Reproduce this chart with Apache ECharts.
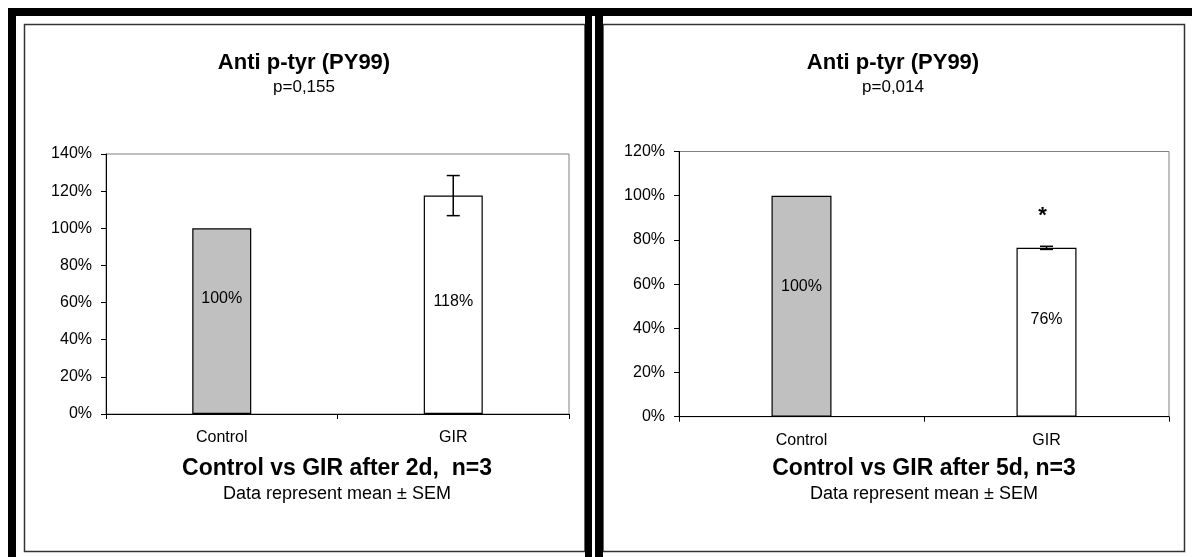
<!DOCTYPE html>
<html>
<head>
<meta charset="utf-8">
<script src="https://cdn.jsdelivr.net/npm/echarts@6/dist/echarts.min.js"></script>
<style>
html,body{margin:0;padding:0;background:#fff;}
#c{width:1192px;height:557px;}
</style>
</head>
<body>
<div id="c"></div>
<script>
// ---- data ----
const categories = ['Control', 'GIR'];
const values2d = [100, 117.6];
const sem2d = [null, 10.8];
const values5d = [100, 76.4];
const sem5d = [null, 0.7];
const signif5d = ['', '*'];
const yMax2d = 140, yMax5d = 120, yStep = 20;
const title2d = 'Anti p-tyr (PY99)', sub2d = 'p=0,155';
const title5d = 'Anti p-tyr (PY99)', sub5d = 'p=0,014';
const xTitle2d = 'Control vs GIR after 2d,  n=3';
const xTitle5d = 'Control vs GIR after 5d, n=3';
const note = 'Data represent mean \u00b1 SEM';
const barColors = ['#C0C0C0', '#FFFFFF'];

// ---- styles ----
const FONT = '"Liberation Sans", Arial, sans-serif';
const labelPos2d = ['38%', '48.5%'];
const labelPos5d = ['41%', '42.5%'];

const chart = echarts.init(document.getElementById('c'), null, {renderer: 'canvas'});

function barData(vals, pos) {
  return vals.map((v, i) => ({
    value: v,
    itemStyle: {color: barColors[i], borderColor: '#000', borderWidth: 1.2},
    label: {position: ['50%', pos[i]]}
  }));
}

function errRender(sems, signs) {
  return function (params, api) {
    const i = params.dataIndex;
    const s = sems[i];
    if (s == null) return null;
    const v = api.value(1);
    const x = api.coord([api.value(0), v])[0];
    const top = api.coord([api.value(0), v + s])[1];
    const bot = api.coord([api.value(0), v - s])[1];
    const hw = 6.5;
    const st = {stroke: '#000', lineWidth: 1.5};
    const children = [
      {type: 'line', shape: {x1: x, y1: top, x2: x, y2: bot}, style: st},
      {type: 'line', shape: {x1: x - hw, y1: top, x2: x + hw, y2: top}, style: st},
      {type: 'line', shape: {x1: x - hw, y1: bot, x2: x + hw, y2: bot}, style: st}
    ];
    if (signs && signs[i]) {
      children.push({type: 'text', style: {text: signs[i], x: x - 4, y: top - 30,
        textAlign: 'center', textVerticalAlign: 'middle',
        font: 'bold 22px ' + FONT, fill: '#000'}});
    }
    return {type: 'group', children: children};
  };
}

function yAxisCfg(idx, max) {
  return {
    type: 'value', gridIndex: idx, min: 0, max: max, interval: yStep,
    axisLine: {show: true, lineStyle: {color: '#000', width: 1}},
    axisTick: {show: true, length: 5, lineStyle: {color: '#000'}},
    splitLine: {show: false},
    axisLabel: {formatter: '{value}%', color: '#000', fontSize: 16, fontFamily: FONT, margin: 14}
  };
}
function xAxisCfg(idx) {
  return {
    type: 'category', gridIndex: idx, data: categories,
    axisLine: {show: true, lineStyle: {color: '#000', width: 1}},
    axisTick: {show: true, length: 5, alignWithLabel: false, lineStyle: {color: '#000'}},
    axisLabel: {color: '#000', fontSize: 16, fontFamily: FONT, margin: 16}
  };
}
function barSeries(idx, vals, pos) {
  return {
    type: 'bar', xAxisIndex: idx, yAxisIndex: idx, data: barData(vals, pos),
    barWidth: idx === 0 ? 59 : 60,
    label: {show: true, align: 'center', verticalAlign: 'middle', color: '#000',
      fontSize: 16, fontFamily: FONT, formatter: p => Math.round(p.value) + '%'},
    z: 2
  };
}
function errSeries(idx, vals, sems, signs) {
  return {
    type: 'custom', xAxisIndex: idx, yAxisIndex: idx,
    data: vals.map((v, i) => [i, v]),
    renderItem: errRender(sems, signs), z: 5
  };
}
function txt(t, x, y, font) {
  return {type: 'text', x: x, y: y, z: 10,
    style: {text: t, textAlign: 'center', textVerticalAlign: 'middle', font: font, fill: '#000'}};
}
function rect(x, y, w, h) {
  return {type: 'rect', shape: {x: x, y: y, width: w, height: h}, style: {fill: '#000'}, z: 20};
}
function frame(x, y, w, h) {
  return {type: 'rect', shape: {x: x, y: y, width: w, height: h},
    style: {fill: 'none', stroke: '#333', lineWidth: 1.5}, z: 19};
}

const option = {
  backgroundColor: '#fff',
  animation: false,
  grid: [
    {left: 106, top: 154, width: 463, height: 260, show: true, borderColor: '#808080', borderWidth: 1, backgroundColor: 'transparent'},
    {left: 679, top: 151.5, width: 490, height: 265.2, show: true, borderColor: '#808080', borderWidth: 1, backgroundColor: 'transparent'}
  ],
  xAxis: [xAxisCfg(0), xAxisCfg(1)],
  yAxis: [yAxisCfg(0, yMax2d), yAxisCfg(1, yMax5d)],
  series: [
    barSeries(0, values2d, labelPos2d),
    errSeries(0, values2d, sem2d, null),
    barSeries(1, values5d, labelPos5d),
    errSeries(1, values5d, sem5d, signif5d)
  ],
  graphic: [
    frame(24.5, 24.5, 560.5, 527),
    frame(603, 24.5, 581.5, 527),
    rect(8, 8, 1184, 8),
    rect(8, 8, 8, 549),
    rect(585, 8, 7, 549),
    rect(595, 8, 8, 549),
    txt(title2d, 304, 63, 'bold 22px ' + FONT),
    txt(sub2d, 304, 87, '17px ' + FONT),
    txt(title5d, 893, 63, 'bold 22px ' + FONT),
    txt(sub5d, 893, 87, '17px ' + FONT),
    txt(xTitle2d, 337, 469, 'bold 23px ' + FONT),
    txt(note, 337, 494, '18px ' + FONT),
    txt(xTitle5d, 924, 469, 'bold 23px ' + FONT),
    txt(note, 924, 494, '18px ' + FONT)
  ]
};
chart.setOption(option);
</script>
</body>
</html>
